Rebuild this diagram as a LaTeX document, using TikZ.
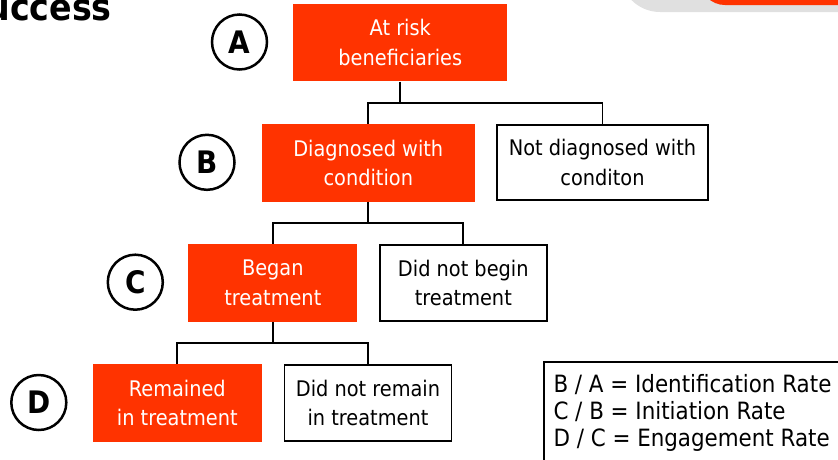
\documentclass[tikz,border=0pt]{standalone}
\usepackage{fontspec}
\setmainfont{DejaVu Sans Condensed}
\usepackage{tikz}
\usetikzlibrary{positioning}
\definecolor{riskorange}{RGB}{255,51,0}
\definecolor{tabgrey}{RGB}{224,224,224}
\tikzset{
	stagebox/.style={fill=riskorange, text=white, align=center, inner sep=0pt, minimum width=#1, minimum height=77.5pt, font=\fontsize{21.5}{29.5}\selectfont},
	stagebox/.default=169pt,
	restbox/.style={draw, line width=1.8pt, align=center, inner sep=0pt, minimum width=#1, minimum height=75.5pt, font=\fontsize{21.5}{29.5}\selectfont},
	restbox/.default=167pt,
	stagelabel/.style={circle, draw, line width=2.5pt, minimum size=55pt, inner sep=0pt, font=\bfseries\fontsize{31}{31}\selectfont},
	branch/.style={line width=1.8pt},
	ratetext/.style={anchor=base west, inner sep=0pt, font=\fontsize{23.8}{27}\selectfont}
}

\begin{document}
\begin{tikzpicture}[x=1pt, y=-1pt]
		\clip (0,0) rectangle (838,459);
		% cut-off title and tab at the top
		\node at (112,20.5) [anchor=base east, inner sep=0pt, font=\bfseries\fontsize{37}{40}\selectfont] (title) {uccess};
		\fill [tabgrey, rounded corners=40pt] (620,-40) rectangle (880,12);
		\fill [riskorange, rounded corners=25pt] (700,-40) rectangle (880,5);
		% stages
		\node at (400.3,42.7) [stagebox=214pt] (A) {At risk\\beneficiaries};
		\node at (368.3,162.8) [stagebox=213pt] (B) {Diagnosed with\\condition};
		\node at (602.5,162.5) [restbox=210.5pt] (notB) {Not diagnosed with\\conditon};
		\node at (272.8,282.8) [stagebox] (C) {Began\\treatment};
		\node at (463.3,283) [restbox] (notC) {Did not begin\\treatment};
		\node at (177.3,403.2) [stagebox] (D) {Remained\\in treatment};
		\node at (368,403) [restbox] (notD) {Did not remain\\in treatment};
		% letters
		\node at (239.5,42) [stagelabel] (labelA) {A};
		\node at (207,162.3) [stagelabel] (labelB) {B};
		\node at (135.3,282.2) [stagelabel] (labelC) {C};
		\node at (38.8,402.5) [stagelabel] (labelD) {D};
		% branches
		\draw [branch] (A.south) -- ++(0,21.5) coordinate (splitA) -| (B.north);
		\draw [branch] (splitA) -| (notB.north);
		\draw [branch] (B.south) -- ++(0,21) coordinate (splitB) -| (C.north);
		\draw [branch] (splitB) -| (notC.north);
		\draw [branch] (C.south) -- ++(0,21.5) coordinate (splitC) -| (D.north);
		\draw [branch] (splitC) -| (notD.north);
		% rates
		\draw [line width=2pt] (544,361.7) rectangle (880,490);
		\foreach \rate [count=\i] in {{B / A = Identification Rate},{C / B = Initiation Rate},{D / C = Engagement Rate}} {
			\node at (553.3,{392.3+27.2*(\i-1)}) [ratetext] (rate\i) {\rate};
		}
\end{tikzpicture}
\end{document}
